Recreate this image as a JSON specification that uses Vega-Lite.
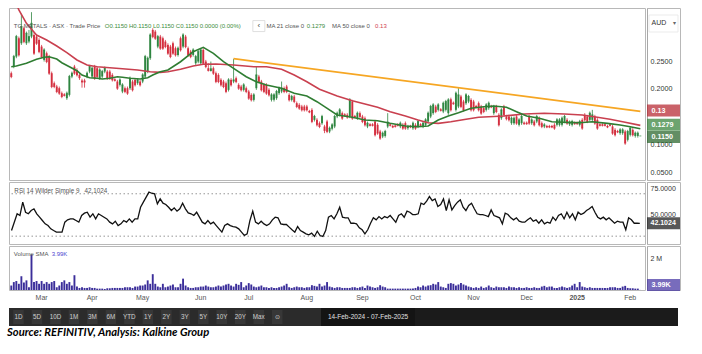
{
"$schema":"https://vega.github.io/schema/vega-lite/v6.json",
"background":"white",
"padding":{"left":7,"top":7,"right":0,"bottom":0},
"spacing":0,
"resolve":{"scale":{"x":"independent","y":"independent"}},
"config":{"view":{"stroke":"#b8b8b8","strokeWidth":1},"font":"Liberation Sans, sans-serif","concat":{"spacing":0}},
"title":{"text":"Source: REFINITIV, Analysis: Kalkine Group","orient":"bottom","anchor":"start","font":"Lato","fontSize":11.2,"fontWeight":"bold","fontStyle":"italic","color":"#000000","offset":1,"baseline":"top","dx":-1},
"datasets":{
"trend":[{"d":"2024-06-21","t":0.2541},{"d":"2025-02-07","t":0.1594}],
"main":[
{"d":"2024-02-14","o":0.228,"h":0.231,"l":0.219,"c":0.222,"v":280,"r":35.3,"a":0.2397,"b":0.375},
{"d":"2024-02-15","o":0.240,"h":0.261,"l":0.237,"c":0.258,"v":495},
{"d":"2024-02-16","o":0.258,"h":0.297,"l":0.255,"c":0.294,"v":560,"r":51.1,"a":0.241},
{"d":"2024-02-19","o":0.291,"h":0.294,"l":0.258,"c":0.261,"v":387,"r":49.5,"b":0.342},
{"d":"2024-02-20","o":0.282,"h":0.335,"l":0.279,"c":0.312,"v":860},
{"d":"2024-02-21","o":0.309,"h":0.312,"l":0.282,"c":0.285,"v":473,"r":62.1},
{"d":"2024-02-22","o":0.282,"h":0.303,"l":0.279,"c":0.300,"v":602,"r":52.6,"a":0.2459,"b":0.3179},
{"d":"2024-02-23","o":0.285,"h":0.306,"l":0.282,"c":0.294,"v":172,"r":51.1},
{"d":"2024-02-26","o":0.294,"h":0.338,"l":0.291,"c":0.318,"v":2215,"r":54.2},
{"d":"2024-02-27","o":0.297,"h":0.300,"l":0.261,"c":0.264,"v":495,"r":55.8},
{"d":"2024-02-28","o":0.294,"h":0.297,"l":0.279,"c":0.282,"v":560,"r":51.1,"a":0.2531,"b":0.2968},
{"d":"2024-02-29","o":0.288,"h":0.291,"l":0.264,"c":0.267,"v":387,"r":47.9},
{"d":"2024-03-01","o":0.276,"h":0.279,"l":0.255,"c":0.258,"v":560},
{"d":"2024-03-04","o":0.252,"h":0.273,"l":0.249,"c":0.270,"v":387,"r":44.8,"a":0.2567},
{"d":"2024-03-05","o":0.264,"h":0.267,"l":0.246,"c":0.249,"v":495,"r":41.6,"b":0.2878},
{"d":"2024-03-06","o":0.258,"h":0.261,"l":0.225,"c":0.228,"v":387,"r":40.0,"a":0.2577},
{"d":"2024-03-07","o":0.228,"h":0.231,"l":0.201,"c":0.204,"v":495},
{"d":"2024-03-08","o":0.210,"h":0.213,"l":0.201,"c":0.204,"v":560,"r":36.9},
{"d":"2024-03-11","o":0.204,"h":0.207,"l":0.192,"c":0.195,"v":172,"r":35.3,"a":0.2536,"b":0.2770},
{"d":"2024-03-12","o":0.201,"h":0.204,"l":0.189,"c":0.192,"v":280,"r":33.8},
{"d":"2024-03-13","o":0.192,"h":0.195,"l":0.183,"c":0.186,"v":495,"a":0.2469},
{"d":"2024-03-14","o":0.190,"h":0.192,"l":0.186,"c":0.188,"v":602,"r":33.8},
{"d":"2024-03-15","o":0.183,"h":0.195,"l":0.180,"c":0.192,"v":387,"r":33.8,"b":0.2650},
{"d":"2024-03-18","o":0.189,"h":0.225,"l":0.186,"c":0.222,"v":495,"r":43.2,"a":0.2397},
{"d":"2024-03-19","o":0.222,"h":0.231,"l":0.219,"c":0.228,"v":280,"r":45.4},
{"d":"2024-03-20","o":0.240,"h":0.243,"l":0.225,"c":0.228,"v":925,"r":46.3},
{"d":"2024-03-21","o":0.234,"h":0.237,"l":0.222,"c":0.225,"v":215,"r":46.3,"a":0.2325,"b":0.2518},
{"d":"2024-03-22","o":0.225,"h":0.228,"l":0.216,"c":0.220,"v":129,"r":44.8},
{"d":"2024-03-25","o":0.215,"h":0.218,"l":0.202,"c":0.212,"v":172,"r":43.2,"a":0.2248},
{"d":"2024-03-26","o":0.215,"h":0.218,"l":0.202,"c":0.212,"v":129},
{"d":"2024-03-27","o":0.222,"h":0.231,"l":0.219,"c":0.228,"v":129,"r":49.5,"b":0.2428},
{"d":"2024-03-28","o":0.231,"h":0.243,"l":0.228,"c":0.240,"v":172,"r":51.7,"a":0.2199},
{"d":"2024-04-02","o":0.222,"h":0.240,"l":0.219,"c":0.237,"v":129,"r":52.6},
{"d":"2024-04-03","o":0.240,"h":0.243,"l":0.216,"c":0.219,"v":129,"r":47.9},
{"d":"2024-04-04","o":0.237,"h":0.240,"l":0.219,"c":0.222,"v":86,"r":51.1,"a":0.2188,"b":0.2397},
{"d":"2024-04-05","o":0.219,"h":0.237,"l":0.216,"c":0.234,"v":86,"r":46.3},
{"d":"2024-04-08","o":0.222,"h":0.234,"l":0.219,"c":0.231,"v":86,"r":51.1,"a":0.2176},
{"d":"2024-04-09","o":0.231,"h":0.240,"l":0.228,"c":0.237,"v":65},
{"d":"2024-04-10","o":0.231,"h":0.234,"l":0.216,"c":0.219,"v":108,"r":49.5},
{"d":"2024-04-11","o":0.231,"h":0.234,"l":0.216,"c":0.219,"v":108,"r":47.9,"a":0.2188,"b":0.2379},
{"d":"2024-04-12","o":0.225,"h":0.228,"l":0.213,"c":0.216,"v":129,"r":46.3},
{"d":"2024-04-15","o":0.217,"h":0.219,"l":0.213,"c":0.215,"v":129},
{"d":"2024-04-16","o":0.213,"h":0.216,"l":0.198,"c":0.201,"v":129,"r":43.2,"a":0.2217},
{"d":"2024-04-17","o":0.207,"h":0.219,"l":0.204,"c":0.216,"v":129,"r":41.6},
{"d":"2024-04-18","o":0.195,"h":0.210,"l":0.192,"c":0.207,"v":129,"r":44.1,"a":0.2206,"b":0.2361},
{"d":"2024-04-19","o":0.201,"h":0.204,"l":0.192,"c":0.195,"v":172,"r":40.0},
{"d":"2024-04-22","o":0.201,"h":0.204,"l":0.189,"c":0.192,"v":172,"r":41.6},
{"d":"2024-04-23","o":0.201,"h":0.222,"l":0.198,"c":0.219,"v":172,"r":44.8,"a":0.2188},
{"d":"2024-04-24","o":0.213,"h":0.216,"l":0.195,"c":0.198,"v":129,"r":43.2},
{"d":"2024-04-26","o":0.216,"h":0.219,"l":0.204,"c":0.207,"v":215,"r":46.3},
{"d":"2024-04-29","o":0.210,"h":0.219,"l":0.207,"c":0.216,"v":215,"r":43.2,"b":0.2338},
{"d":"2024-04-30","o":0.213,"h":0.216,"l":0.204,"c":0.207,"v":280,"r":46.3,"a":0.2176},
{"d":"2024-05-01","o":0.213,"h":0.228,"l":0.210,"c":0.225,"v":280,"r":46.3},
{"d":"2024-05-02","o":0.222,"h":0.261,"l":0.219,"c":0.258,"v":344,"r":57.3},
{"d":"2024-05-03","o":0.231,"h":0.258,"l":0.228,"c":0.255,"v":602,"r":62.1,"a":0.2199},
{"d":"2024-05-06","o":0.255,"h":0.300,"l":0.252,"c":0.297,"v":387,"r":66.8,"b":0.2307},
{"d":"2024-05-07","o":0.306,"h":0.309,"l":0.291,"c":0.294,"v":989,"r":71.5,"a":0.2248},
{"d":"2024-05-08","o":0.303,"h":0.306,"l":0.288,"c":0.291,"v":387,"r":70.5},
{"d":"2024-05-09","o":0.276,"h":0.297,"l":0.273,"c":0.294,"v":215,"r":69.9},
{"d":"2024-05-10","o":0.294,"h":0.297,"l":0.270,"c":0.273,"v":172,"r":60.5,"a":0.2307,"b":0.2296},
{"d":"2024-05-13","o":0.291,"h":0.294,"l":0.270,"c":0.273,"v":387,"r":65.2},
{"d":"2024-05-14","o":0.285,"h":0.288,"l":0.273,"c":0.276,"v":172,"r":61.1},
{"d":"2024-05-15","o":0.279,"h":0.282,"l":0.261,"c":0.264,"v":215,"r":59.9,"a":0.2338,"b":0.2307},
{"d":"2024-05-16","o":0.276,"h":0.279,"l":0.255,"c":0.258,"v":280,"r":57.3},
{"d":"2024-05-17","o":0.282,"h":0.285,"l":0.261,"c":0.264,"v":344,"r":54.2},
{"d":"2024-05-20","o":0.273,"h":0.276,"l":0.258,"c":0.261,"v":172,"r":56.7},
{"d":"2024-05-21","o":0.261,"h":0.276,"l":0.258,"c":0.273,"v":172,"r":53.6},
{"d":"2024-05-22","o":0.291,"h":0.294,"l":0.267,"c":0.270,"v":387,"r":55.8,"a":0.2487,"b":0.2350},
{"d":"2024-05-23","o":0.276,"h":0.300,"l":0.273,"c":0.297,"v":710,"r":61.1},
{"d":"2024-05-24","o":0.294,"h":0.297,"l":0.273,"c":0.276,"v":280},
{"d":"2024-05-27","o":0.273,"h":0.276,"l":0.258,"c":0.261,"v":172,"r":55.8},
{"d":"2024-05-28","o":0.267,"h":0.270,"l":0.255,"c":0.258,"v":129,"r":52.0},
{"d":"2024-05-29","o":0.261,"h":0.273,"l":0.258,"c":0.270,"v":129,"r":51.1,"a":0.2668,"b":0.2410},
{"d":"2024-05-30","o":0.246,"h":0.261,"l":0.243,"c":0.258,"v":172,"r":49.5},
{"d":"2024-05-31","o":0.249,"h":0.270,"l":0.246,"c":0.267,"v":172,"r":52.6},
{"d":"2024-06-03","o":0.246,"h":0.273,"l":0.243,"c":0.270,"v":215,"r":47.9},
{"d":"2024-06-04","o":0.270,"h":0.273,"l":0.243,"c":0.246,"v":215,"a":0.2747,"b":0.2441},
{"d":"2024-06-05","o":0.249,"h":0.252,"l":0.237,"c":0.240,"v":280,"r":43.2},
{"d":"2024-06-06","o":0.237,"h":0.246,"l":0.231,"c":0.233,"v":215,"r":41.6},
{"d":"2024-06-07","o":0.232,"h":0.249,"l":0.231,"c":0.236,"v":172,"r":44.8},
{"d":"2024-06-11","o":0.237,"h":0.240,"l":0.225,"c":0.228,"v":172,"r":41.6,"a":0.2639},
{"d":"2024-06-12","o":0.228,"h":0.231,"l":0.210,"c":0.213,"v":215,"r":43.2,"b":0.2446},
{"d":"2024-06-13","o":0.225,"h":0.228,"l":0.210,"c":0.213,"v":280,"r":40.0},
{"d":"2024-06-14","o":0.216,"h":0.219,"l":0.204,"c":0.207,"v":215},
{"d":"2024-06-17","o":0.213,"h":0.216,"l":0.201,"c":0.204,"v":280,"r":36.9,"a":0.2487},
{"d":"2024-06-18","o":0.210,"h":0.213,"l":0.192,"c":0.195,"v":344,"r":33.8},
{"d":"2024-06-19","o":0.198,"h":0.219,"l":0.195,"c":0.216,"v":387,"r":40.0},
{"d":"2024-06-20","o":0.216,"h":0.219,"l":0.204,"c":0.207,"v":280,"r":41.6},
{"d":"2024-06-21","o":0.213,"h":0.254,"l":0.210,"c":0.216,"v":215,"r":40.0,"a":0.2368,"b":0.2428},
{"d":"2024-06-24","o":0.219,"h":0.222,"l":0.210,"c":0.213,"v":387},
{"d":"2024-06-25","o":0.207,"h":0.210,"l":0.198,"c":0.201,"v":322,"r":39.1},
{"d":"2024-06-26","o":0.204,"h":0.207,"l":0.195,"c":0.198,"v":495,"r":38.5},
{"d":"2024-06-27","o":0.198,"h":0.210,"l":0.195,"c":0.207,"v":172},
{"d":"2024-06-28","o":0.201,"h":0.204,"l":0.192,"c":0.195,"v":280,"r":36.9,"a":0.2217},
{"d":"2024-07-01","o":0.195,"h":0.198,"l":0.180,"c":0.183,"v":430,"r":33.8},
{"d":"2024-07-02","o":0.189,"h":0.192,"l":0.177,"c":0.180,"v":344,"r":30.6},
{"d":"2024-07-03","o":0.180,"h":0.192,"l":0.177,"c":0.189,"v":215,"r":32.2,"b":0.2397},
{"d":"2024-07-04","o":0.201,"h":0.240,"l":0.198,"c":0.225,"v":172,"r":44.8,"a":0.2127},
{"d":"2024-07-05","o":0.222,"h":0.225,"l":0.210,"c":0.213,"v":215,"r":53.6},
{"d":"2024-07-08","o":0.213,"h":0.216,"l":0.195,"c":0.198,"v":280,"r":43.2},
{"d":"2024-07-09","o":0.207,"h":0.210,"l":0.192,"c":0.195,"v":172,"r":41.6},
{"d":"2024-07-10","o":0.207,"h":0.210,"l":0.189,"c":0.192,"v":172,"r":44.1,"a":0.2068,"b":0.2397},
{"d":"2024-07-11","o":0.198,"h":0.201,"l":0.186,"c":0.189,"v":129,"r":41.6},
{"d":"2024-07-12","o":0.180,"h":0.192,"l":0.177,"c":0.189,"v":172,"r":40.0},
{"d":"2024-07-15","o":0.180,"h":0.192,"l":0.177,"c":0.189,"v":129},
{"d":"2024-07-16","o":0.183,"h":0.198,"l":0.180,"c":0.195,"v":129,"r":41.6},
{"d":"2024-07-17","o":0.192,"h":0.204,"l":0.189,"c":0.201,"v":172,"r":45.4},
{"d":"2024-07-18","o":0.195,"h":0.213,"l":0.192,"c":0.201,"v":215,"r":47.9,"a":0.2008,"b":0.2350},
{"d":"2024-07-19","o":0.201,"h":0.204,"l":0.192,"c":0.195,"v":280,"r":47.3},
{"d":"2024-07-22","o":0.204,"h":0.207,"l":0.192,"c":0.195,"v":387,"r":41.6},
{"d":"2024-07-23","o":0.189,"h":0.192,"l":0.177,"c":0.180,"v":172},
{"d":"2024-07-24","o":0.180,"h":0.189,"l":0.177,"c":0.186,"v":129,"r":41.0},
{"d":"2024-07-25","o":0.186,"h":0.189,"l":0.174,"c":0.177,"v":172,"a":0.1918,"b":0.2248},
{"d":"2024-07-26","o":0.174,"h":0.177,"l":0.165,"c":0.168,"v":215,"r":41.0},
{"d":"2024-07-29","o":0.171,"h":0.174,"l":0.162,"c":0.165,"v":172,"r":38.5},
{"d":"2024-07-30","o":0.168,"h":0.171,"l":0.159,"c":0.162,"v":172,"r":36.0},
{"d":"2024-07-31","o":0.168,"h":0.171,"l":0.159,"c":0.162,"v":129,"r":33.8},
{"d":"2024-08-01","o":0.168,"h":0.171,"l":0.159,"c":0.162,"v":172,"r":39.1,"a":0.1869,"b":0.2127},
{"d":"2024-08-02","o":0.160,"h":0.162,"l":0.156,"c":0.158,"v":172,"r":35.3},
{"d":"2024-08-05","o":0.162,"h":0.165,"l":0.138,"c":0.141,"v":301,"r":33.8},
{"d":"2024-08-06","o":0.144,"h":0.153,"l":0.141,"c":0.150,"v":258,"r":32.2},
{"d":"2024-08-07","o":0.144,"h":0.147,"l":0.132,"c":0.135,"v":215,"r":31.2,"a":0.1767},
{"d":"2024-08-08","o":0.138,"h":0.141,"l":0.129,"c":0.132,"v":387,"r":32.8,"b":0.1990},
{"d":"2024-08-09","o":0.138,"h":0.153,"l":0.135,"c":0.150,"v":215,"r":29.7},
{"d":"2024-08-12","o":0.132,"h":0.135,"l":0.120,"c":0.125,"v":280,"r":34.7,"a":0.1677},
{"d":"2024-08-13","o":0.141,"h":0.144,"l":0.120,"c":0.123,"v":495,"r":30.6},
{"d":"2024-08-14","o":0.123,"h":0.132,"l":0.120,"c":0.129,"v":215,"r":29.7},
{"d":"2024-08-15","o":0.128,"h":0.138,"l":0.125,"c":0.135,"v":172,"r":35.3},
{"d":"2024-08-16","o":0.132,"h":0.153,"l":0.129,"c":0.150,"v":129,"r":47.9},
{"d":"2024-08-19","o":0.150,"h":0.159,"l":0.147,"c":0.156,"v":172,"a":0.1527,"b":0.1869},
{"d":"2024-08-20","o":0.153,"h":0.165,"l":0.150,"c":0.162,"v":172,"r":49.5},
{"d":"2024-08-21","o":0.156,"h":0.159,"l":0.144,"c":0.147,"v":129,"r":46.3},
{"d":"2024-08-22","o":0.154,"h":0.156,"l":0.150,"c":0.152,"v":129,"r":51.1},
{"d":"2024-08-23","o":0.153,"h":0.156,"l":0.146,"c":0.149,"v":129,"r":57.3},
{"d":"2024-08-26","o":0.150,"h":0.183,"l":0.147,"c":0.180,"v":129,"r":47.9},
{"d":"2024-08-27","o":0.177,"h":0.180,"l":0.144,"c":0.147,"v":172,"r":47.3,"a":0.1486,"b":0.1785},
{"d":"2024-08-28","o":0.151,"h":0.153,"l":0.147,"c":0.149,"v":172},
{"d":"2024-08-29","o":0.147,"h":0.159,"l":0.144,"c":0.156,"v":129,"r":47.3},
{"d":"2024-08-30","o":0.156,"h":0.159,"l":0.147,"c":0.150,"v":172},
{"d":"2024-09-02","o":0.150,"h":0.153,"l":0.138,"c":0.141,"v":215,"r":42.2},
{"d":"2024-09-03","o":0.147,"h":0.150,"l":0.132,"c":0.135,"v":129,"a":0.1437,"b":0.1725},
{"d":"2024-09-04","o":0.132,"h":0.141,"l":0.129,"c":0.138,"v":280,"r":42.2},
{"d":"2024-09-05","o":0.136,"h":0.138,"l":0.132,"c":0.134,"v":215,"r":41.6},
{"d":"2024-09-06","o":0.136,"h":0.138,"l":0.132,"c":0.134,"v":172,"r":37.9},
{"d":"2024-09-09","o":0.141,"h":0.144,"l":0.114,"c":0.117,"v":129},
{"d":"2024-09-10","o":0.135,"h":0.138,"l":0.117,"c":0.120,"v":172,"r":36.0,"a":0.1424,"b":0.1666},
{"d":"2024-09-11","o":0.123,"h":0.126,"l":0.108,"c":0.111,"v":301,"r":32.2},
{"d":"2024-09-12","o":0.114,"h":0.123,"l":0.111,"c":0.120,"v":215,"r":36.0},
{"d":"2024-09-13","o":0.115,"h":0.126,"l":0.112,"c":0.123,"v":172,"r":42.2},
{"d":"2024-09-16","o":0.132,"h":0.156,"l":0.129,"c":0.140,"v":86,"r":47.3},
{"d":"2024-09-17","o":0.136,"h":0.138,"l":0.132,"c":0.134,"v":86,"r":45.4,"a":0.1377,"b":0.1586},
{"d":"2024-09-18","o":0.133,"h":0.135,"l":0.129,"c":0.131,"v":86,"r":48.5},
{"d":"2024-09-19","o":0.134,"h":0.136,"l":0.130,"c":0.132,"v":86,"r":46.3},
{"d":"2024-09-20","o":0.136,"h":0.138,"l":0.132,"c":0.134,"v":86,"r":48.5},
{"d":"2024-09-23","o":0.132,"h":0.141,"l":0.129,"c":0.138,"v":86,"r":47.3},
{"d":"2024-09-24","o":0.135,"h":0.138,"l":0.126,"c":0.129,"v":86,"r":49.5},
{"d":"2024-09-25","o":0.138,"h":0.141,"l":0.126,"c":0.129,"v":86,"r":46.3,"a":0.1329,"b":0.1509},
{"d":"2024-09-26","o":0.129,"h":0.135,"l":0.126,"c":0.132,"v":86,"r":43.2},
{"d":"2024-09-27","o":0.133,"h":0.135,"l":0.129,"c":0.131,"v":86,"r":49.5},
{"d":"2024-09-30","o":0.129,"h":0.141,"l":0.126,"c":0.138,"v":86,"r":51.1},
{"d":"2024-10-01","o":0.135,"h":0.138,"l":0.126,"c":0.129,"v":129,"r":47.9},
{"d":"2024-10-02","o":0.132,"h":0.144,"l":0.129,"c":0.141,"v":215,"r":53.6,"a":0.1316,"b":0.1437},
{"d":"2024-10-03","o":0.136,"h":0.138,"l":0.132,"c":0.134,"v":172,"r":52.6},
{"d":"2024-10-04","o":0.132,"h":0.141,"l":0.129,"c":0.138,"v":280,"r":50.4},
{"d":"2024-10-07","o":0.135,"h":0.147,"l":0.132,"c":0.144,"v":215,"r":50.4},
{"d":"2024-10-08","o":0.141,"h":0.159,"l":0.138,"c":0.156,"v":280,"r":51.1,"a":0.1329,"b":0.1388},
{"d":"2024-10-09","o":0.150,"h":0.171,"l":0.147,"c":0.168,"v":301,"r":61.1},
{"d":"2024-10-10","o":0.156,"h":0.174,"l":0.153,"c":0.171,"v":387,"r":59.9},
{"d":"2024-10-11","o":0.168,"h":0.171,"l":0.156,"c":0.159,"v":344,"r":63.0},
{"d":"2024-10-14","o":0.162,"h":0.174,"l":0.159,"c":0.171,"v":495,"r":67.4,"a":0.1437,"b":0.1377},
{"d":"2024-10-15","o":0.163,"h":0.165,"l":0.159,"c":0.161,"v":215,"r":63.6},
{"d":"2024-10-16","o":0.159,"h":0.177,"l":0.156,"c":0.174,"v":172,"r":65.2},
{"d":"2024-10-17","o":0.162,"h":0.180,"l":0.159,"c":0.177,"v":129,"r":58.0},
{"d":"2024-10-18","o":0.156,"h":0.183,"l":0.153,"c":0.180,"v":387,"r":59.9,"a":0.1509},
{"d":"2024-10-21","o":0.181,"h":0.184,"l":0.159,"c":0.162,"v":430,"r":65.2,"b":0.1406},
{"d":"2024-10-22","o":0.175,"h":0.177,"l":0.171,"c":0.173,"v":387,"r":54.2},
{"d":"2024-10-23","o":0.162,"h":0.195,"l":0.159,"c":0.192,"v":280,"r":64.3},
{"d":"2024-10-24","o":0.168,"h":0.201,"l":0.165,"c":0.189,"v":344,"r":54.8,"a":0.1568},
{"d":"2024-10-25","o":0.186,"h":0.189,"l":0.165,"c":0.168,"v":430,"r":58.9},
{"d":"2024-10-28","o":0.177,"h":0.180,"l":0.159,"c":0.162,"v":344,"r":62.1},
{"d":"2024-10-29","o":0.174,"h":0.192,"l":0.171,"c":0.189,"v":280,"r":64.3,"b":0.1450},
{"d":"2024-10-30","o":0.177,"h":0.189,"l":0.174,"c":0.186,"v":215,"r":57.3},
{"d":"2024-10-31","o":0.180,"h":0.183,"l":0.159,"c":0.162,"v":172,"r":54.2,"a":0.1648},
{"d":"2024-11-01","o":0.177,"h":0.180,"l":0.159,"c":0.162,"v":129,"r":58.9},
{"d":"2024-11-04","o":0.169,"h":0.171,"l":0.165,"c":0.167,"v":172,"r":61.1},
{"d":"2024-11-05","o":0.174,"h":0.177,"l":0.159,"c":0.162,"v":129,"r":55.8,"b":0.1486},
{"d":"2024-11-06","o":0.168,"h":0.171,"l":0.153,"c":0.156,"v":215,"r":51.1},
{"d":"2024-11-07","o":0.165,"h":0.168,"l":0.156,"c":0.159,"v":129,"r":50.4,"a":0.1677},
{"d":"2024-11-08","o":0.162,"h":0.174,"l":0.159,"c":0.171,"v":172,"r":50.4},
{"d":"2024-11-11","o":0.165,"h":0.177,"l":0.162,"c":0.174,"v":280,"r":49.5},
{"d":"2024-11-12","o":0.169,"h":0.171,"l":0.165,"c":0.167,"v":172,"r":48.5},
{"d":"2024-11-13","o":0.156,"h":0.171,"l":0.153,"c":0.168,"v":129,"r":54.8,"a":0.1689},
{"d":"2024-11-14","o":0.168,"h":0.171,"l":0.156,"c":0.159,"v":215,"r":49.5},
{"d":"2024-11-15","o":0.153,"h":0.156,"l":0.132,"c":0.135,"v":172,"r":48.5},
{"d":"2024-11-18","o":0.147,"h":0.165,"l":0.144,"c":0.162,"v":172,"r":47.3},
{"d":"2024-11-19","o":0.168,"h":0.171,"l":0.150,"c":0.153,"v":172,"r":41.6,"b":0.1509},
{"d":"2024-11-20","o":0.150,"h":0.153,"l":0.143,"c":0.146,"v":129,"r":51.7,"a":0.1666},
{"d":"2024-11-21","o":0.150,"h":0.153,"l":0.141,"c":0.144,"v":215,"r":50.4},
{"d":"2024-11-22","o":0.138,"h":0.150,"l":0.135,"c":0.147,"v":172,"r":47.3},
{"d":"2024-11-25","o":0.138,"h":0.150,"l":0.135,"c":0.147,"v":172,"r":45.4},
{"d":"2024-11-26","o":0.150,"h":0.153,"l":0.135,"c":0.138,"v":129,"r":47.3,"a":0.1586},
{"d":"2024-11-27","o":0.135,"h":0.147,"l":0.132,"c":0.144,"v":172,"r":44.1},
{"d":"2024-11-28","o":0.138,"h":0.153,"l":0.135,"c":0.150,"v":129,"r":43.2},
{"d":"2024-11-29","o":0.139,"h":0.141,"l":0.135,"c":0.137,"v":129,"r":43.2,"b":0.1545},
{"d":"2024-12-02","o":0.139,"h":0.141,"l":0.135,"c":0.137,"v":172,"a":0.1509},
{"d":"2024-12-03","o":0.150,"h":0.153,"l":0.135,"c":0.138,"v":129,"r":45.4},
{"d":"2024-12-04","o":0.138,"h":0.147,"l":0.135,"c":0.144,"v":129,"r":47.3},
{"d":"2024-12-05","o":0.141,"h":0.144,"l":0.132,"c":0.135,"v":172,"r":44.1},
{"d":"2024-12-06","o":0.141,"h":0.153,"l":0.138,"c":0.150,"v":129,"r":45.4},
{"d":"2024-12-09","o":0.147,"h":0.150,"l":0.132,"c":0.135,"v":129,"r":42.2,"a":0.1468},
{"d":"2024-12-10","o":0.138,"h":0.141,"l":0.129,"c":0.132,"v":215,"r":45.4},
{"d":"2024-12-11","o":0.132,"h":0.138,"l":0.129,"c":0.135,"v":258,"b":0.1558},
{"d":"2024-12-12","o":0.133,"h":0.135,"l":0.129,"c":0.131,"v":172,"r":41.6},
{"d":"2024-12-13","o":0.133,"h":0.135,"l":0.129,"c":0.131,"v":215,"r":43.2},
{"d":"2024-12-16","o":0.133,"h":0.135,"l":0.129,"c":0.131,"v":215,"r":42.2,"a":0.1406},
{"d":"2024-12-17","o":0.135,"h":0.138,"l":0.126,"c":0.129,"v":129,"r":47.9},
{"d":"2024-12-18","o":0.135,"h":0.147,"l":0.132,"c":0.144,"v":129,"r":44.8},
{"d":"2024-12-19","o":0.135,"h":0.147,"l":0.132,"c":0.144,"v":172,"r":49.5},
{"d":"2024-12-20","o":0.135,"h":0.150,"l":0.132,"c":0.147,"v":215,"r":51.1},
{"d":"2024-12-23","o":0.141,"h":0.153,"l":0.138,"c":0.150,"v":172,"r":46.3,"b":0.1545},
{"d":"2024-12-24","o":0.144,"h":0.147,"l":0.135,"c":0.138,"v":129,"r":52.6,"a":0.1395},
{"d":"2024-12-27","o":0.136,"h":0.143,"l":0.133,"c":0.140,"v":172,"r":47.3},
{"d":"2024-12-30","o":0.135,"h":0.144,"l":0.132,"c":0.141,"v":280,"r":51.1},
{"d":"2024-12-31","o":0.139,"h":0.141,"l":0.135,"c":0.137,"v":387,"r":45.4},
{"d":"2025-01-02","o":0.139,"h":0.141,"l":0.135,"c":0.137,"v":172,"r":52.6},
{"d":"2025-01-03","o":0.135,"h":0.144,"l":0.132,"c":0.141,"v":495,"r":50.4,"a":0.1388},
{"d":"2025-01-06","o":0.144,"h":0.147,"l":0.126,"c":0.129,"v":215,"r":51.7,"b":0.1527},
{"d":"2025-01-07","o":0.153,"h":0.156,"l":0.141,"c":0.144,"v":172,"r":54.2},
{"d":"2025-01-08","o":0.150,"h":0.153,"l":0.138,"c":0.141,"v":129,"r":55.8},
{"d":"2025-01-09","o":0.144,"h":0.159,"l":0.141,"c":0.156,"v":172,"r":58.0},
{"d":"2025-01-10","o":0.144,"h":0.162,"l":0.141,"c":0.153,"v":129,"r":52.6,"a":0.1406},
{"d":"2025-01-13","o":0.150,"h":0.153,"l":0.135,"c":0.138,"v":129,"r":47.9},
{"d":"2025-01-14","o":0.144,"h":0.147,"l":0.126,"c":0.129,"v":129,"r":46.3,"b":0.1486},
{"d":"2025-01-15","o":0.136,"h":0.138,"l":0.132,"c":0.134,"v":129,"r":47.9},
{"d":"2025-01-16","o":0.136,"h":0.138,"l":0.132,"c":0.134,"v":129,"r":45.4},
{"d":"2025-01-17","o":0.136,"h":0.138,"l":0.132,"c":0.134,"v":129,"r":47.3},
{"d":"2025-01-20","o":0.133,"h":0.135,"l":0.129,"c":0.131,"v":129,"a":0.1377},
{"d":"2025-01-21","o":0.136,"h":0.138,"l":0.132,"c":0.134,"v":172,"r":44.8,"b":0.1450},
{"d":"2025-01-22","o":0.132,"h":0.135,"l":0.117,"c":0.120,"v":172,"r":42.2},
{"d":"2025-01-23","o":0.126,"h":0.129,"l":0.114,"c":0.117,"v":172},
{"d":"2025-01-24","o":0.124,"h":0.126,"l":0.120,"c":0.122,"v":129,"r":44.1},
{"d":"2025-01-28","o":0.120,"h":0.129,"l":0.117,"c":0.126,"v":129,"r":43.2,"a":0.1347},
{"d":"2025-01-29","o":0.120,"h":0.129,"l":0.117,"c":0.126,"v":215,"r":43.2,"b":0.1406},
{"d":"2025-01-30","o":0.123,"h":0.126,"l":0.099,"c":0.102,"v":258,"r":36.0},
{"d":"2025-01-31","o":0.108,"h":0.126,"l":0.105,"c":0.123,"v":129,"r":47.3},
{"d":"2025-02-03","o":0.117,"h":0.132,"l":0.114,"c":0.129,"v":108,"r":45.4,"a":0.1316},
{"d":"2025-02-04","o":0.126,"h":0.129,"l":0.114,"c":0.117,"v":108,"r":42.2},
{"d":"2025-02-05","o":0.115,"h":0.123,"l":0.112,"c":0.120,"v":86},
{"d":"2025-02-06","o":0.115,"h":0.123,"l":0.112,"c":0.120,"v":86,"r":42.2},
{"d":"2025-02-07","o":0.115,"h":0.115,"l":0.115,"c":0.115,"v":4,"r":42.1024,"a":0.1279,"b":0.134}
]},
"vconcat":[
{"spacing":0,"hconcat":[
 {"width":636,"height":172,"data":{"name":"main"},
  "layer":[
   {"mark":{"type":"rule","strokeWidth":0.8,"clip":true},"encoding":{
     "x":{"field":"d","type":"ordinal","bandPosition":0.5,"axis":null,"scale":{"type":"band","paddingInner":0.25,"paddingOuter":1.365,"align":0.263}},
     "y":{"field":"l","type":"quantitative","scale":{"domain":[0.0356,0.3455],"zero":false,"nice":false},"axis":null},
     "y2":{"field":"h"},
     "color":{"condition":{"test":"datum.c >= datum.o","value":"#2e8540"},"value":"#d42f3f"}}},
   {"mark":{"type":"bar","clip":true},"encoding":{
     "x":{"field":"d","type":"ordinal","axis":null},
     "y":{"field":"o","type":"quantitative","scale":{"domain":[0.0356,0.3455],"zero":false,"nice":false},"axis":null},
     "y2":{"field":"c"},
     "color":{"condition":{"test":"datum.c >= datum.o","value":"#2e8540"},"value":"#d42f3f"}}},
   {"mark":{"type":"tick","thickness":1,"size":2,"clip":true},"encoding":{
     "x":{"field":"d","type":"ordinal","axis":null},
     "y":{"field":"c","type":"quantitative","scale":{"domain":[0.0356,0.3455],"zero":false,"nice":false},"axis":null},
     "color":{"condition":{"test":"datum.c >= datum.o","value":"#2e8540"},"value":"#d42f3f"}}},
   {"transform":[{"filter":"isValid(datum.b)"}],"mark":{"type":"line","color":"#c9404f","strokeWidth":1.6,"clip":true},"encoding":{
     "x":{"field":"d","type":"ordinal","bandPosition":0.5,"axis":null},
     "y":{"field":"b","type":"quantitative","scale":{"domain":[0.0356,0.3455],"zero":false,"nice":false},"axis":null}}},
   {"transform":[{"filter":"isValid(datum.a)"}],"mark":{"type":"line","color":"#2f7d32","strokeWidth":1.6,"clip":true},"encoding":{
     "x":{"field":"d","type":"ordinal","bandPosition":0.5,"axis":null},
     "y":{"field":"a","type":"quantitative","scale":{"domain":[0.0356,0.3455],"zero":false,"nice":false},"axis":null}}},
   {"data":{"name":"trend"},"mark":{"type":"line","color":"#f6a623","strokeWidth":1.8,"clip":true},"encoding":{
     "x":{"field":"d","type":"ordinal","bandPosition":0.5,"axis":null},
     "y":{"field":"t","type":"quantitative","scale":{"domain":[0.0356,0.3455],"zero":false,"nice":false},"axis":null}}},
   {"data":{"values":[{}]},"mark":{"type":"text","align":"left","baseline":"middle","fontSize":6,"color":"#555555"},"encoding":{
     "x":{"datum":"2024-02-15","type":"ordinal"},"y":{"datum":0.313,"type":"quantitative"},"text":{"value":"TG METALS · ASX · Trade Price"}}},
   {"data":{"values":[{}]},"mark":{"type":"text","align":"left","baseline":"middle","fontSize":6,"color":"#3c8c3c"},"encoding":{
     "x":{"datum":"2024-04-09","type":"ordinal"},"y":{"datum":0.313,"type":"quantitative"},"text":{"value":"O0.1150 H0.1150 L0.1150 C0.1150 0.0000 (0.00%)"}}},
   {"data":{"values":[{}]},"mark":{"type":"tick","orient":"horizontal","size":12,"thickness":11,"fill":"white","stroke":"#c8c8c8","strokeWidth":0.8},"encoding":{
     "x":{"datum":"2024-07-05","type":"ordinal"},"y":{"datum":0.313,"type":"quantitative"}}},
   {"data":{"values":[{}]},"mark":{"type":"text","align":"center","baseline":"middle","fontSize":8,"color":"#444444"},"encoding":{
     "x":{"datum":"2024-07-05","type":"ordinal"},"y":{"datum":0.313,"type":"quantitative"},"text":{"value":"‹"}}},
   {"data":{"values":[{}]},"mark":{"type":"text","align":"left","baseline":"middle","fontSize":6,"color":"#555555"},"encoding":{
     "x":{"datum":"2024-07-10","type":"ordinal"},"y":{"datum":0.313,"type":"quantitative"},"text":{"value":"MA 21 close 0"}}},
   {"data":{"values":[{}]},"mark":{"type":"text","align":"left","baseline":"middle","fontSize":6,"color":"#3c8c3c"},"encoding":{
     "x":{"datum":"2024-08-01","type":"ordinal"},"y":{"datum":0.313,"type":"quantitative"},"text":{"value":"0.1279"}}},
   {"data":{"values":[{}]},"mark":{"type":"text","align":"left","baseline":"middle","fontSize":6,"color":"#555555"},"encoding":{
     "x":{"datum":"2024-08-15","type":"ordinal"},"y":{"datum":0.313,"type":"quantitative"},"text":{"value":"MA 50 close 0"}}},
   {"data":{"values":[{}]},"mark":{"type":"text","align":"left","baseline":"middle","fontSize":6,"color":"#d04050"},"encoding":{
     "x":{"datum":"2024-09-09","type":"ordinal"},"y":{"datum":0.313,"type":"quantitative"},"text":{"value":"0.13"}}}
  ]},
 {"width":33,"height":172,"data":{"values":[{}]},
  "layer":[
   {"mark":{"type":"tick","orient":"horizontal","size":29,"thickness":17,"fill":"white","stroke":"#dddddd","strokeWidth":0.8},"encoding":{
     "y":{"datum":0.3176,"type":"quantitative","scale":{"domain":[0.0356,0.3455],"zero":false,"nice":false},
       "axis":{"orient":"left","values":[0.05,0.1,0.2,0.25],"format":".4f","labelAlign":"left","labelPadding":-3,"ticks":true,"tickSize":0,"domain":true,"domainColor":"#a8a8a8","grid":false,"labelFontSize":7.2,"labelColor":"#333333","labelFont":"Liberation Sans, sans-serif","minExtent":0,"maxExtent":0,"title":null,"zindex":0}}}},
   {"mark":{"type":"text","align":"left","baseline":"middle","dx":-12,"fontSize":7,"color":"#333333"},"encoding":{"y":{"datum":0.3176,"type":"quantitative"},"text":{"value":"AUD"}}},
   {"mark":{"type":"text","align":"center","baseline":"middle","dx":11,"fontSize":6,"color":"#666666"},"encoding":{"y":{"datum":0.3176,"type":"quantitative"},"text":{"value":"▾"}}},
   {"mark":{"type":"tick","orient":"horizontal","size":33,"thickness":12,"color":"#b3202a","yOffset":-17},"encoding":{"y":{"datum":0.13,"type":"quantitative"}}},
   {"mark":{"type":"text","align":"left","baseline":"middle","dx":-12,"dy":-17,"fontSize":7.2,"fontWeight":"bold","color":"white"},"encoding":{"y":{"datum":0.13,"type":"quantitative"},"text":{"value":"0.13"}}},
   {"mark":{"type":"tick","orient":"horizontal","size":33,"thickness":12,"color":"#2e7d32","yOffset":-4},"encoding":{"y":{"datum":0.1279,"type":"quantitative"}}},
   {"mark":{"type":"text","align":"left","baseline":"middle","dx":-12,"dy":-4,"fontSize":7.2,"fontWeight":"bold","color":"white"},"encoding":{"y":{"datum":0.1279,"type":"quantitative"},"text":{"value":"0.1279"}}},
   {"mark":{"type":"tick","orient":"horizontal","size":33,"thickness":12,"color":"#1f5e22","yOffset":1},"encoding":{"y":{"datum":0.115,"type":"quantitative"}}},
   {"mark":{"type":"text","align":"left","baseline":"middle","dx":-12,"dy":1,"fontSize":7.2,"fontWeight":"bold","color":"white"},"encoding":{"y":{"datum":0.115,"type":"quantitative"},"text":{"value":"0.1150"}}}
  ]}
]},
{"spacing":0,"hconcat":[
 {"width":636,"height":62,"data":{"name":"main"},
  "layer":[
   {"data":{"values":[{"lvl":70},{"lvl":30}]},"mark":{"type":"rule","color":"#8a8a8a","strokeWidth":0.9,"strokeDash":[1.5,2.5]},"encoding":{
     "y":{"field":"lvl","type":"quantitative","scale":{"domain":[22.6,81.1],"zero":false,"nice":false},"axis":null}}},
   {"transform":[{"filter":"isValid(datum.r)"}],"mark":{"type":"line","color":"#111111","strokeWidth":1.3},"encoding":{
     "x":{"field":"d","type":"ordinal","bandPosition":0.5,"axis":null,"scale":{"type":"band","paddingInner":0.25,"paddingOuter":1.365,"align":0.263}},
     "y":{"field":"r","type":"quantitative","scale":{"domain":[22.6,81.1],"zero":false,"nice":false},"axis":null}}},
   {"data":{"values":[{}]},"mark":{"type":"text","align":"left","baseline":"middle","fontSize":6.3,"color":"#555555"},"encoding":{
     "x":{"datum":"2024-02-15","type":"ordinal"},"y":{"datum":72.2,"type":"quantitative"},"text":{"value":"RSI 14 Wilder Simple 9"}}},
   {"data":{"values":[{}]},"mark":{"type":"text","align":"left","baseline":"middle","fontSize":6.3,"color":"#555555"},"encoding":{
     "x":{"datum":"2024-03-28","type":"ordinal"},"y":{"datum":72.2,"type":"quantitative"},"text":{"value":"42.1024"}}}
  ]},
 {"width":33,"height":62,"data":{"values":[{}]},
  "layer":[
   {"mark":{"type":"tick","orient":"horizontal","size":33,"thickness":12,"color":"#111111"},"encoding":{
     "y":{"datum":42.1024,"type":"quantitative","scale":{"domain":[22.6,81.1],"zero":false,"nice":false},
       "axis":{"orient":"left","values":[50,75],"format":".4f","labelAlign":"left","labelPadding":-3,"ticks":true,"tickSize":0,"domain":true,"domainColor":"#a8a8a8","grid":false,"labelFontSize":7,"labelColor":"#333333","labelFont":"Liberation Sans, sans-serif","minExtent":0,"maxExtent":0,"title":null,"zindex":0}}}},
   {"mark":{"type":"text","align":"left","baseline":"middle","dx":-13,"fontSize":7,"fontWeight":"bold","color":"white"},"encoding":{"y":{"datum":42.1024,"type":"quantitative"},"text":{"value":"42.1024"}}}
  ]}
]},
{"spacing":0,"hconcat":[
 {"width":636,"height":44,"data":{"name":"main"},
  "layer":[
   {"mark":{"type":"bar","color":"#3b2e9a"},"encoding":{
     "x":{"field":"d","type":"ordinal","scale":{"type":"band","paddingInner":0.25,"paddingOuter":1.365,"align":0.263},
       "axis":{"values":["2024-03-01","2024-04-02","2024-05-01","2024-06-03","2024-07-01","2024-08-01","2024-09-02","2024-10-01","2024-11-01","2024-12-02","2025-01-02","2025-02-03"],
         "labelExpr":"utcFormat(toDate(datum.value), '%m') == '01' ? '2025' : utcFormat(toDate(datum.value), '%b')",
         "labelAngle":0,"ticks":false,"domain":false,"grid":false,"labelPadding":3,"labelFontSize":7,"labelColor":"#555555","labelFont":"Liberation Sans, sans-serif",
         "labelFontWeight":{"condition":{"test":"datum.value == '2025-01-02'","value":"bold"},"value":"normal"},
         "minExtent":17,"title":null}},
     "y":{"field":"v","type":"quantitative","scale":{"domain":[0,2750],"nice":false},"axis":null}}},
   {"data":{"values":[{}]},"mark":{"type":"text","align":"left","baseline":"middle","fontSize":6,"color":"#555555"},"encoding":{
     "x":{"datum":"2024-02-15","type":"ordinal"},"y":{"datum":2250,"type":"quantitative"},"text":{"value":"Volume SMA"}}},
   {"data":{"values":[{}]},"mark":{"type":"text","align":"left","baseline":"middle","fontSize":6,"color":"#4a3fd0"},"encoding":{
     "x":{"datum":"2024-03-07","type":"ordinal"},"y":{"datum":2250,"type":"quantitative"},"text":{"value":"3.99K"}}}
  ]},
 {"width":33,"height":44,"data":{"values":[{}]},
  "layer":[
   {"mark":{"type":"tick","orient":"horizontal","size":33,"thickness":12,"color":"#3f2da0","yOffset":-5},"encoding":{
     "y":{"datum":3.99,"type":"quantitative","scale":{"domain":[0,2750],"nice":false},
       "axis":{"orient":"left","values":[2000],"labelExpr":"'2 M'","labelAlign":"left","labelPadding":-3,"ticks":true,"tickSize":0,"domain":true,"domainColor":"#a8a8a8","grid":false,"labelFontSize":7,"labelColor":"#333333","labelFont":"Liberation Sans, sans-serif","minExtent":0,"maxExtent":0,"title":null,"zindex":0}}}},
   {"mark":{"type":"text","align":"left","baseline":"middle","dx":-12,"dy":-5,"fontSize":7.2,"fontWeight":"bold","color":"white"},"encoding":{"y":{"datum":3.99,"type":"quantitative"},"text":{"value":"3.99K"}}}
  ]}
]},
{"spacing":0,"hconcat":[
 {"width":312,"height":18,"view":{"fill":"#2b2b2b","stroke":null},
  "data":{"values":[{"b":"1D"},{"b":"5D"},{"b":"10D"},{"b":"1M"},{"b":"3M"},{"b":"6M"},{"b":"YTD"},{"b":"1Y"},{"b":"2Y"},{"b":"3Y"},{"b":"5Y"},{"b":"10Y"},{"b":"20Y"},{"b":"Max"},{"b":"⊙"}]},
  "layer":[
   {"mark":{"type":"tick","orient":"vertical","size":14,"thickness":10.5,"color":"#3d3d3d"},"encoding":{
     "x":{"field":"b","type":"nominal","sort":null,"axis":null,"scale":{"type":"band","paddingInner":0.12,"paddingOuter":5.24,"align":0.036}}}},
   {"mark":{"type":"text","color":"#d0d0d0","fontSize":6.3,"baseline":"middle"},"encoding":{
     "x":{"field":"b","type":"nominal","sort":null,"axis":null},"text":{"field":"b"}}}
  ]},
 {"width":94,"height":18,"view":{"fill":"#141414","stroke":null},"data":{"values":[{}]},
  "mark":{"type":"text","color":"#e0e0e0","fontSize":6.5,"baseline":"middle"},"encoding":{"text":{"value":"14-Feb-2024  -  07-Feb-2025"}}},
 {"width":263,"height":18,"view":{"fill":"#1b1b1b","stroke":null},"data":{"values":[{}]},
  "mark":{"type":"text"},"encoding":{"text":{"value":""}}}
]}
]
}
